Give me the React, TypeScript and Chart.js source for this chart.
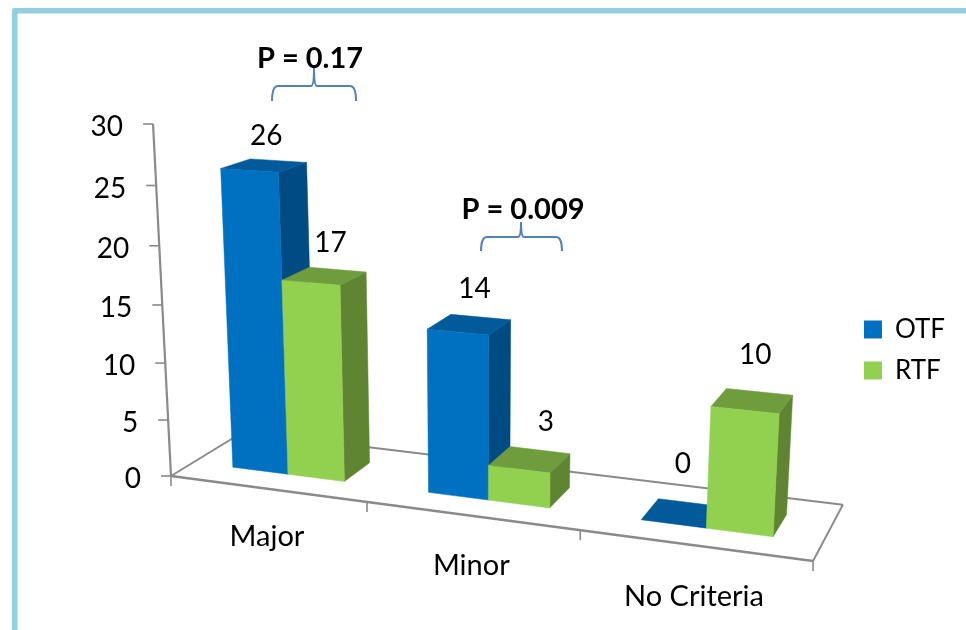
import React, { useEffect, useRef } from "react";
import { Chart, registerables } from "chart.js";

Chart.register(...registerables);

// Chart content
const categories = ["Major", "Minor", "No Criteria"];
const otfValues = [26, 14, 0];
const rtfValues = [17, 3, 10];
const valueTicks = { min: 0, max: 30, step: 5 };
const significanceNotes = [
  { text: "P = 0.17", textX: 310, textY: 59, left: 272, right: 356, tipX: 314, tipY: 68, barY: 86, endY: 101 },
  { text: "P = 0.009", textX: 523, textY: 210, left: 481, right: 562, tipX: 521, tipY: 222, barY: 237, endY: 251 },
];

// Face colours of each series: [front, top, side]
const otfFaces = ["#0070C0", "#015B9A", "#004B82"];
const rtfFaces = ["#92D050", "#6F9C3C", "#5F8532"];

const FONT = "Lato, Carlito, Calibri, sans-serif";
const AXIS_COLOR = "#8A8A8A";
const FRAME_COLOR = "#94CFDF";

// Depth range of the boxes on the floor (0 = front edge, 1 = back edge)
const BOX_FRONT = 0.3;
const BOX_BACK = 0.7;

// Perspective camera: X in category units, Y as a fraction of the value axis, Z as floor depth
function project(X: number, Y: number, Z: number): [number, number] {
  const w = 1 - 0.04036 * X - 0.0552 * Y + 0.0762 * Z;
  return [
    (171 + 181.2 * X - 26.4 * Y + 90.5 * Z) / w,
    (476 + 5.7 * X - 358.85 * Y - 11.1 * Z) / w,
  ];
}

function fillQuad(ctx: CanvasRenderingContext2D, pts: [number, number][], color: string) {
  ctx.beginPath();
  pts.forEach(([x, y], i) => (i ? ctx.lineTo(x, y) : ctx.moveTo(x, y)));
  ctx.closePath();
  ctx.fillStyle = color;
  ctx.fill();
  ctx.strokeStyle = color;
  ctx.lineWidth = 0.5;
  ctx.stroke();
}

function strokeLine(ctx: CanvasRenderingContext2D, a: [number, number], b: [number, number]) {
  ctx.beginPath();
  ctx.moveTo(a[0], a[1]);
  ctx.lineTo(b[0], b[1]);
  ctx.stroke();
}

// Where each value label sits relative to the back of its box top
const labelOffsets = [
  [[-12, -25], [-6, -28], [-7, -39]],
  [[-7, -27], [6, -28], [-4, -37]],
];

const perspectiveScene = {
  id: "perspectiveScene",
  beforeDraw(chart: any) {
    const { ctx, width, height } = chart;
    ctx.save();
    ctx.fillStyle = "#FFFFFF";
    ctx.fillRect(0, 0, width, height);
    ctx.fillStyle = FRAME_COLOR;
    ctx.beginPath();
    ctx.roundRect(12, 8, width, height, 2);
    ctx.roundRect(17.5, 13.5, width, height, 1);
    ctx.fill("evenodd");
    ctx.restore();
  },
  // Replaces the flat bars with perspective boxes built from the same elements
  beforeDatasetsDraw(chart: any) {
    const { ctx, scales } = chart;
    const xs = scales.x;
    const ys = scales.y;
    const n = categories.length;
    const toX = (px: number) => ((px - xs.left) / xs.width) * n;
    const toY = (py: number) => (ys.bottom - py) / ys.height;

    ctx.save();
    ctx.lineCap = "butt";
    ctx.strokeStyle = AXIS_COLOR;

    // Floor outline
    ctx.lineWidth = 2;
    const fl = project(0, 0, 0);
    const fr = project(n, 0, 0);
    const bl = project(0, 0, 1);
    const br = project(n, 0, 1);
    strokeLine(ctx, fl, bl);
    strokeLine(ctx, bl, br);
    strokeLine(ctx, br, fr);
    ctx.lineWidth = 2.4;
    strokeLine(ctx, fl, fr);

    // Category ticks along the front edge
    ctx.lineWidth = 1.6;
    for (let i = 0; i <= n; i++) {
      const p = project(i, 0, 0);
      strokeLine(ctx, p, [p[0], p[1] + 10]);
    }

    // Value axis with its ticks and labels
    ctx.lineWidth = 2.2;
    strokeLine(ctx, fl, project(0, 1, 0));
    ctx.font = `28px ${FONT}`;
    ctx.textAlign = "right";
    ctx.textBaseline = "middle";
    ys.ticks.forEach((t: any) => {
      const p = project(0, toY(ys.getPixelForValue(t.value)), 0);
      ctx.lineWidth = 1.6;
      strokeLine(ctx, p, [p[0] - 10, p[1]]);
      ctx.fillStyle = "#000000";
      ctx.fillText(String(t.value), p[0] - 30, p[1] + 3);
    });

    // Category labels below the front edge, drifting lower toward the near corner
    ctx.font = `29px ${FONT}`;
    ctx.textAlign = "center";
    categories.forEach((label, i) => {
      const p = project(toX(xs.getPixelForValue(i)), 0, 0);
      ctx.fillText(label, p[0], p[1] + 48 + i * 1.5);
    });

    // Boxes, left to right, so nearer faces cover their neighbours
    const anchors: { text: string; x: number; y: number }[] = [];
    categories.forEach((_, i) => {
      chart.data.datasets.forEach((ds: any, d: number) => {
        const el = chart.getDatasetMeta(d).data[i];
        const { x, y, base, width } = el.getProps(["x", "y", "base", "width"], true);
        const x0 = toX(x - width / 2);
        const x1 = toX(x + width / 2);
        const y0 = toY(base);
        const y1 = toY(y);
        const faces = ds.faces;
        fillQuad(ctx, [project(x1, y0, BOX_FRONT), project(x1, y0, BOX_BACK), project(x1, y1, BOX_BACK), project(x1, y1, BOX_FRONT)], faces[2]);
        fillQuad(ctx, [project(x0, y1, BOX_FRONT), project(x1, y1, BOX_FRONT), project(x1, y1, BOX_BACK), project(x0, y1, BOX_BACK)], faces[1]);
        if (y1 > y0) {
          fillQuad(ctx, [project(x0, y0, BOX_FRONT), project(x1, y0, BOX_FRONT), project(x1, y1, BOX_FRONT), project(x0, y1, BOX_FRONT)], faces[0]);
        }
        const top = project((x0 + x1) / 2, y1, BOX_BACK);
        const [ox, oy] = labelOffsets[d][i];
        anchors.push({ text: String(ds.data[i]), x: top[0] + ox, y: top[1] + oy });
      });
    });

    // Value labels
    ctx.font = `28px ${FONT}`;
    ctx.fillStyle = "#000000";
    ctx.textAlign = "center";
    anchors.forEach((a) => ctx.fillText(a.text, a.x, a.y));

    // Significance brackets
    significanceNotes.forEach((s) => {
      ctx.fillStyle = "#000000";
      ctx.font = `bold 29px ${FONT}`;
      ctx.fillText(s.text, s.textX, s.textY);
      ctx.strokeStyle = "#4F81BD";
      ctx.lineWidth = 2;
      ctx.beginPath();
      ctx.moveTo(s.left, s.endY);
      ctx.quadraticCurveTo(s.left, s.barY, s.left + 6, s.barY);
      ctx.lineTo(s.tipX - 3, s.barY);
      ctx.quadraticCurveTo(s.tipX, s.barY, s.tipX, s.tipY);
      ctx.quadraticCurveTo(s.tipX, s.barY, s.tipX + 3, s.barY);
      ctx.lineTo(s.right - 6, s.barY);
      ctx.quadraticCurveTo(s.right, s.barY, s.right, s.endY);
      ctx.stroke();
    });
    ctx.restore();
    return false;
  },
};

export default function App() {
  const canvasRef = useRef<HTMLCanvasElement | null>(null);

  useEffect(() => {
    const chart = new Chart(canvasRef.current as HTMLCanvasElement, {
      type: "bar",
      data: {
        labels: categories,
        datasets: [
          { label: "OTF", data: otfValues, backgroundColor: otfFaces[0], faces: otfFaces },
          { label: "RTF", data: rtfValues, backgroundColor: rtfFaces[0], faces: rtfFaces },
        ] as any,
      },
      options: {
        animation: false,
        responsive: false,
        layout: { padding: { top: 70, right: 11 } },
        categoryPercentage: 0.58,
        barPercentage: 1,
        scales: {
          x: { display: false },
          y: {
            display: false,
            min: valueTicks.min,
            max: valueTicks.max,
            ticks: { stepSize: valueTicks.step },
          },
        },
        plugins: {
          tooltip: { enabled: false },
          legend: {
            position: "right",
            labels: {
              boxWidth: 18,
              boxHeight: 18,
              padding: 15,
              color: "#000000",
              font: { family: FONT, size: 26 },
            },
          },
        },
      } as any,
      plugins: [perspectiveScene],
    });
    return () => chart.destroy();
  }, []);

  return (
    <div style={{ position: "fixed", left: 0, top: 0, width: 966, height: 630 }}>
      <canvas ref={canvasRef} width={966} height={630} style={{ display: "block" }} />
    </div>
  );
}
